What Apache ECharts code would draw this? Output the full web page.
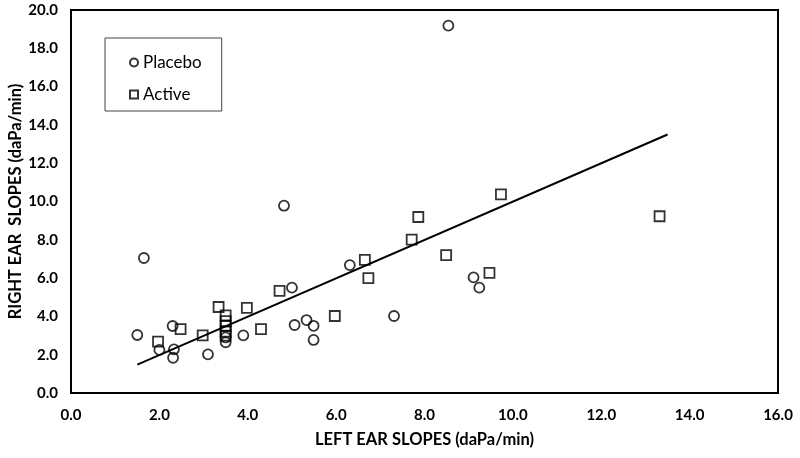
<!DOCTYPE html>
<html>
<head>
<meta charset="utf-8">
<script src="https://cdn.jsdelivr.net/npm/echarts@6/dist/echarts.min.js"></script>
<style>html,body{margin:0;padding:0;background:#fff}#c{width:800px;height:458px}</style>
</head>
<body>
<div id="c"></div>
<script>
// Placebo (circles): [left ear slope, right ear slope]
const placeboX = [1.5, 1.65, 2.0, 2.3, 2.33, 2.31, 3.1, 3.5, 3.5, 3.9, 4.82, 5.0, 5.06, 5.33, 5.49, 5.49, 6.31, 7.31, 8.54, 9.11, 9.24];
const placeboY = [3.03, 7.05, 2.25, 3.5, 2.28, 1.84, 2.02, 2.65, 2.9, 3.01, 9.78, 5.5, 3.55, 3.81, 3.51, 2.77, 6.68, 4.02, 19.18, 6.04, 5.5];
// Active (squares)
const activeX = [1.97, 2.48, 2.98, 3.34, 3.5, 3.5, 3.5, 3.5, 3.5, 3.98, 4.3, 4.72, 5.97, 6.65, 6.73, 7.71, 7.86, 8.49, 9.47, 9.73, 13.32];
const activeY = [2.68, 3.34, 3.01, 4.49, 4.05, 3.75, 3.5, 3.2, 3.0, 4.45, 3.34, 5.33, 4.02, 6.95, 6.0, 8.01, 9.19, 7.2, 6.27, 10.37, 9.23];
// Trend line end points
const trendX = [1.5, 13.5];
const trendY = [1.48, 13.5];

const xTicks = [0, 2, 4, 6, 8, 10, 12, 14, 16];
const yTicks = [0, 2, 4, 6, 8, 10, 12, 14, 16, 18, 20];

const zip = (a, b) => a.map((v, i) => [v, b[i]]);
const FONT = 'Lato';

const chart = echarts.init(document.getElementById('c'), null, {renderer: 'canvas'});
chart.setOption({
  animation: false,
  backgroundColor: '#fff',
  textStyle: {fontFamily: FONT},
  grid: {left: 71, right: 22, top: 10, bottom: 65, containLabel: false, outerBoundsMode: 'none',
         show: true, borderColor: '#000', borderWidth: 2, backgroundColor: 'transparent'},
  legend: {
    data: ['Placebo', 'Active'],
    orient: 'vertical',
    left: 105, top: 38,
    padding: [16, 20, 8, 24],
    itemGap: 15,
    itemWidth: 8, itemHeight: 8,
    backgroundColor: '#fff',
    borderColor: '#444', borderWidth: 1,
    textStyle: {fontFamily: FONT, fontSize: 17, color: '#000'}
  },
  xAxis: {
    type: 'value', min: xTicks[0], max: xTicks[xTicks.length - 1], interval: 2,
    name: 'LEFT EAR SLOPES (daPa/min)', nameLocation: 'middle', nameGap: 38, nameMoveOverlap: false,
    nameTextStyle: {fontFamily: FONT, fontSize: 16.5, fontWeight: 'bold', color: '#000'},
    axisLine: {show: true, lineStyle: {color: '#000', width: 2}},
    axisTick: {show: false},
    splitLine: {show: false},
    axisLabel: {margin: 15, fontFamily: FONT, fontSize: 15, fontWeight: 'bold', color: '#000', formatter: v => v.toFixed(1)}
  },
  yAxis: {
    type: 'value', min: yTicks[0], max: yTicks[yTicks.length - 1], interval: 2,
    name: 'RIGHT EAR  SLOPES (daPa/min)', nameLocation: 'middle', nameGap: 47, nameMoveOverlap: false,
    nameTextStyle: {fontFamily: FONT, fontSize: 16.5, fontWeight: 'bold', color: '#000'},
    axisLine: {show: true, lineStyle: {color: '#000', width: 2}},
    axisTick: {show: false},
    splitLine: {show: false},
    axisLabel: {margin: 13, fontFamily: FONT, fontSize: 15, fontWeight: 'bold', color: '#000', formatter: v => v.toFixed(1)}
  },
  series: [
    {
      name: 'Placebo', type: 'scatter', symbol: 'circle', symbolSize: 10,
      data: zip(placeboX, placeboY),
      itemStyle: {color: 'rgba(255,255,255,0)', borderColor: '#000', borderWidth: 1.8},
      z: 3
    },
    {
      name: 'Active', type: 'scatter', symbol: 'rect', symbolSize: 10,
      data: zip(activeX, activeY),
      itemStyle: {color: 'rgba(255,255,255,0)', borderColor: '#000', borderWidth: 1.8},
      z: 3
    },
    {
      name: 'Trend', type: 'line', symbol: 'none',
      data: zip(trendX, trendY),
      lineStyle: {color: '#000', width: 2},
      z: 2
    }
  ]
});
</script>
</body>
</html>
